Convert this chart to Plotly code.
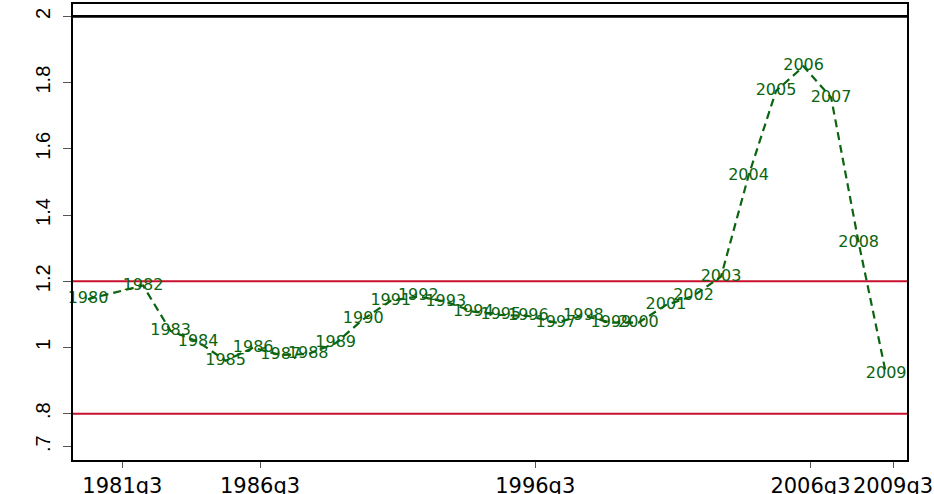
import plotly.graph_objects as go

# Annual ratio, plotted at the second quarter of each year
years = [1980, 1982, 1983, 1984, 1985, 1986, 1987, 1988, 1989, 1990,
         1991, 1992, 1993, 1994, 1995, 1996, 1997, 1998, 1999, 2000,
         2001, 2002, 2003, 2004, 2005, 2006, 2007, 2008, 2009]
ratio = [1.146, 1.187, 1.050, 1.017, 0.960, 0.999, 0.977, 0.980, 1.013, 1.085,
         1.141, 1.154, 1.138, 1.108, 1.098, 1.095, 1.075, 1.096, 1.075, 1.075,
         1.128, 1.156, 1.214, 1.519, 1.775, 1.849, 1.755, 1.317, 0.919]

# Reference levels
upper_ref = 2.0
band_refs = [1.2, 0.8]

# Axis ticks
x_tick_labels = ["1981q3", "1986q3", "1996q3", "2006q3", "2009q3"]
y_tick_vals = [2, 1.8, 1.6, 1.4, 1.2, 1, 0.8, 0.7]
y_tick_text = ["2", "1.8", "1.6", "1.4", "1.2", "1", ".8", ".7"]


def quarter_index(label):
    """Quarters since 1960q1, e.g. '1981q3' -> 86."""
    y, q = label.split("q")
    return (int(y) - 1960) * 4 + int(q) - 1


x_tick_vals = [quarter_index(t) for t in x_tick_labels]
x_points = [quarter_index(f"{y}q2") for y in years]

GREEN = "#0b6410"
RED = "#c8102e"

fig = go.Figure()

fig.add_trace(go.Scatter(
    x=x_points, y=ratio,
    mode="lines+text",
    text=[str(y) for y in years],
    textposition="middle center",
    textfont=dict(family="DejaVu Sans", size=16, color=GREEN),
    line=dict(color=GREEN, width=2.2, dash="8px,5px"),
    showlegend=False, cliponaxis=False,
))

fig.add_hline(y=upper_ref, line=dict(color="black", width=2.6), layer="above")
for r in band_refs:
    fig.add_hline(y=r, line=dict(color=RED, width=2), layer="below")

fig.update_layout(
    width=934, height=494,
    margin=dict(l=73, r=27, t=4, b=34, autoexpand=False),
    paper_bgcolor="white", plot_bgcolor="white",
    font=dict(family="Liberation Sans", color="black"),
    xaxis=dict(
        range=[78.82, 200.03],
        tickvals=x_tick_vals, ticktext=x_tick_labels,
        ticks="outside", ticklen=6, tickwidth=1.2, tickcolor="#555555",
        tickfont=dict(family="DejaVu Sans", size=21, color="black"),
        ticklabelstandoff=0, automargin=False,
        showgrid=False, zeroline=False,
        showline=True, linecolor="black", linewidth=1.5, mirror=True,
    ),
    yaxis=dict(
        range=[0.660, 2.0375],
        tickvals=y_tick_vals, ticktext=y_tick_text,
        tickangle=-90,
        ticks="outside", ticklen=8, tickwidth=1.2, tickcolor="#555555",
        tickfont=dict(family="Liberation Sans", size=20, color="black"),
        ticklabelstandoff=5, automargin=False,
        showgrid=False, zeroline=False,
        showline=True, linecolor="black", linewidth=1.5, mirror=True,
    ),
)

fig.write_html("out.html")
